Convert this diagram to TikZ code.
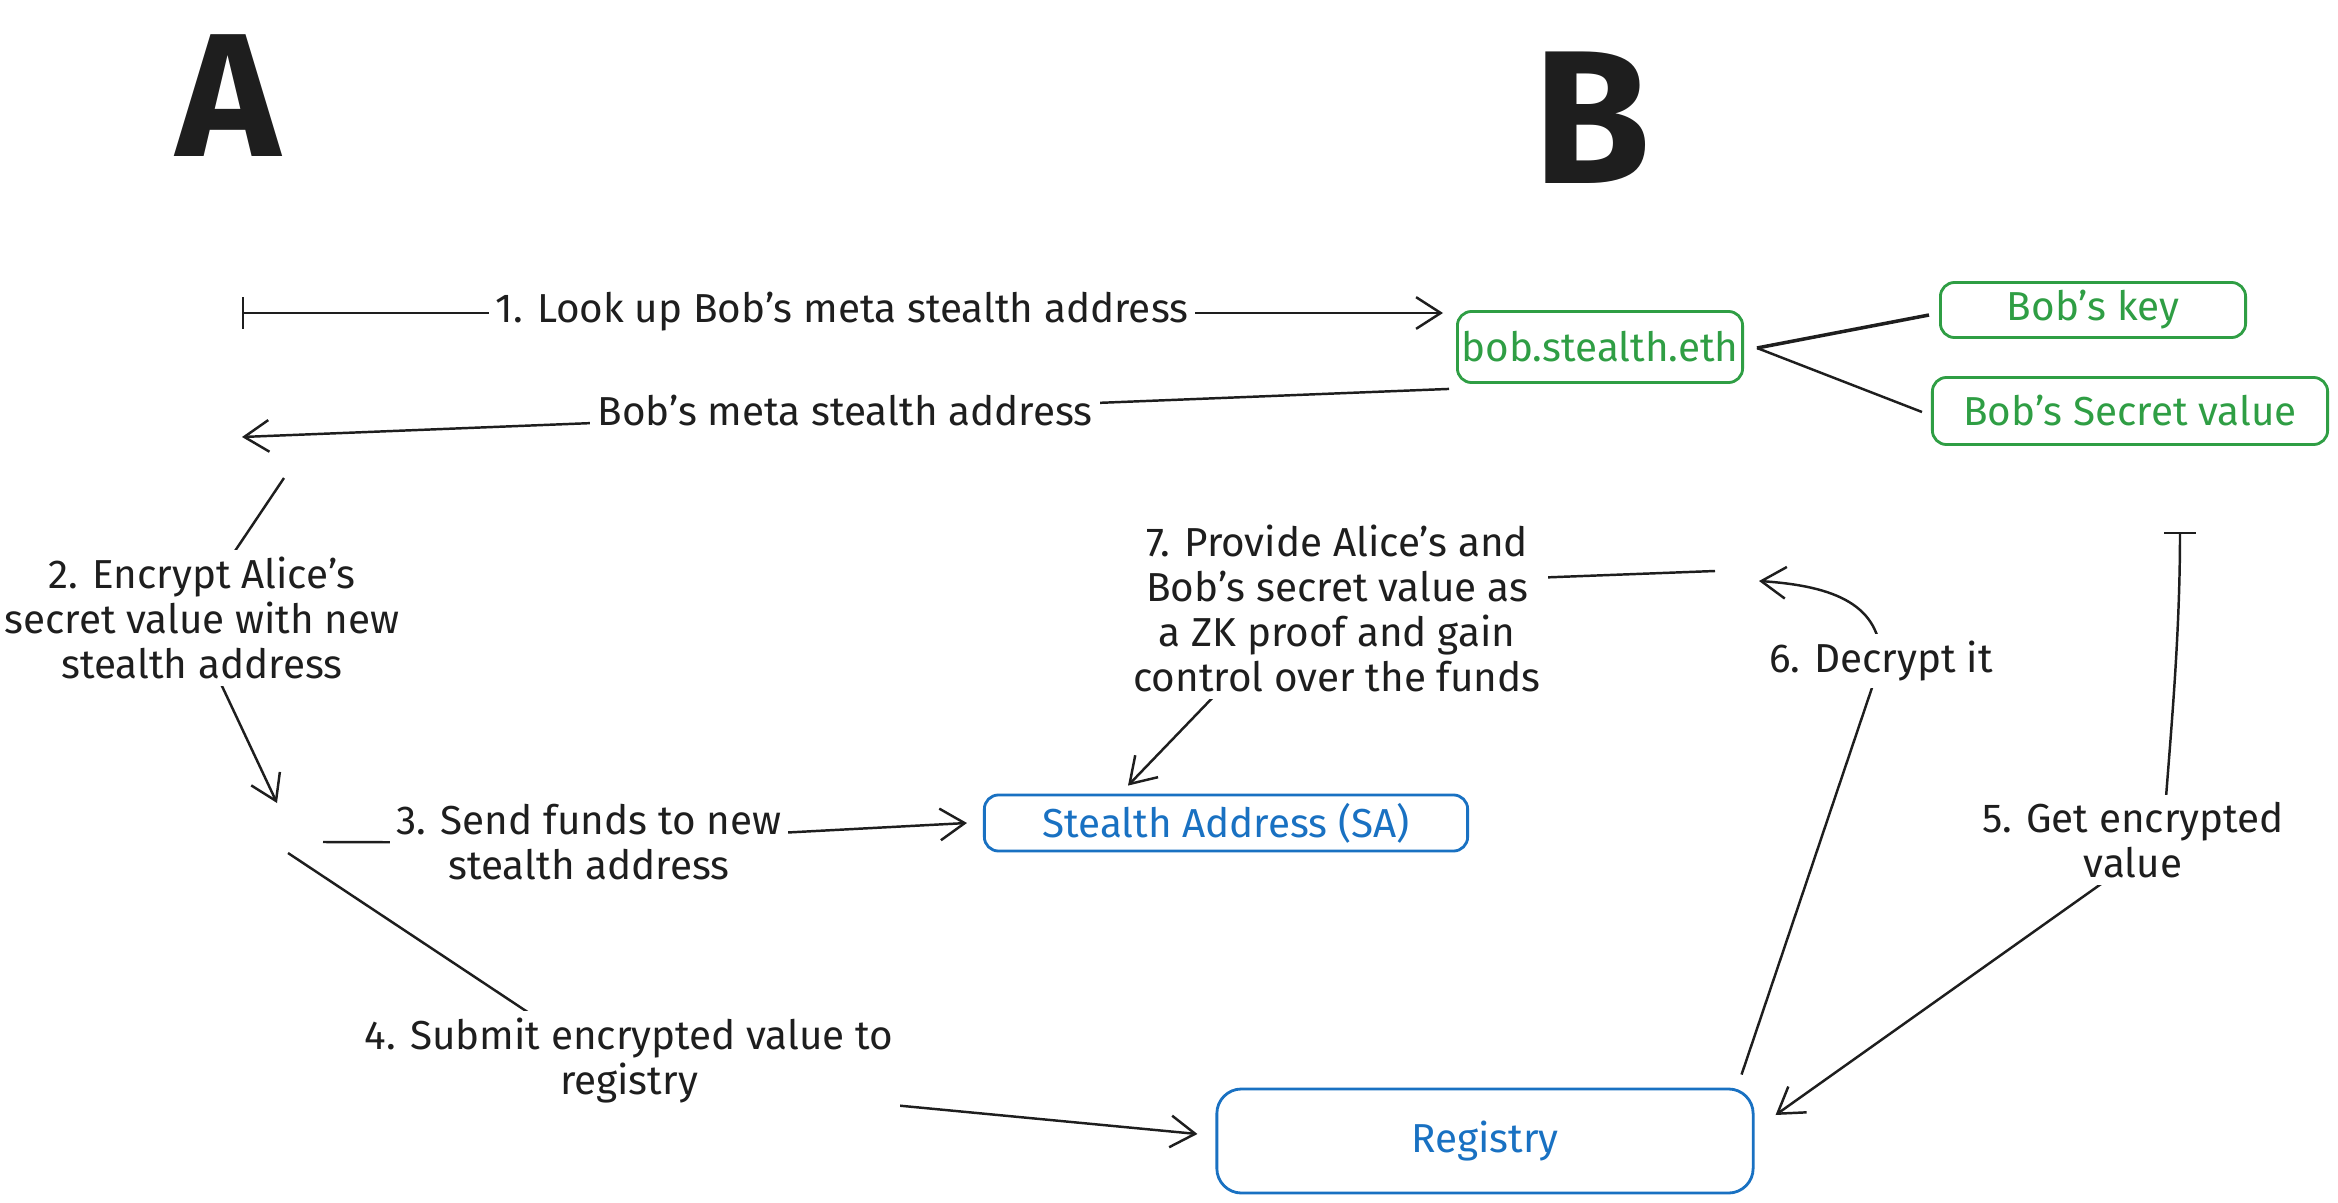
\documentclass[tikz,border=0pt]{standalone}
\usepackage{fontspec}
\setmainfont{Fira Sans}
\usetikzlibrary{arrows.meta}
\pgfdeclarelayer{bg}
\pgfsetlayers{bg,main}
\definecolor{ink}{HTML}{1E1E1E}
\definecolor{grn}{HTML}{2F9E44}
\definecolor{blu}{HTML}{1971C2}
\begin{document}
\begin{tikzpicture}[x=0.01cm,y=-0.01cm,
  txt/.style={font=\fontsize{11.5}{12.8}\selectfont, text=ink, align=center},
  lbl/.style={txt, fill=white, inner sep=2pt},
  gbox/.style={draw=grn, text=grn, font=\fontsize{11.5}{12.8}\selectfont, rounded corners=4pt, line width=0.8pt, inner sep=0pt},
  bbox/.style={draw=blu, text=blu, font=\fontsize{11.5}{12.8}\selectfont, rounded corners=4pt, line width=0.8pt, inner sep=0pt},
  conn/.style={draw=ink, line width=0.7pt},
  tip/.style={-{Straight Barb[length=7pt,width=9pt]}},
  big/.style={text=ink, inner sep=0pt}
]
\useasboundingbox (0,0) rectangle (2338,1203);
\begin{pgfonlayer}{bg}
\fill[white] (0,0) rectangle (2338,1203);
\end{pgfonlayer}

% headings
\node[big, font=\fontsize{50}{60}\selectfont\bfseries] (hA) at (228,96) {A};
\node[big, font=\fontsize{54}{64}\selectfont\bfseries] (hB) at (1592,118) {B};

% boxes
\node[gbox, minimum width=2.85cm, minimum height=0.71cm] (bob) at (1600,347) {bob.stealth.eth};
\node[gbox, minimum width=3.05cm, minimum height=0.55cm] (key) at (2093,310) {Bob's key};
\node[gbox, minimum width=3.95cm, minimum height=0.67cm] (sec) at (2130,411) {Bob's Secret value};
\node[bbox, minimum width=4.83cm, minimum height=0.56cm] (sa) at (1226,823) {Stealth Address (SA)};
\node[bbox, minimum width=5.36cm, minimum height=1.04cm, rounded corners=7pt] (reg) at (1485,1141) {Registry};

% labels
\node[lbl] (l1) at (842,312) {1. Look up Bob's meta stealth address};
\node[lbl] (l1b) at (845,411) {Bob's meta stealth address};
\node[lbl] (l2) at (202,618) {2. Encrypt Alice's\\secret value with new\\stealth address};
\node[lbl] (l3) at (589,842) {3. Send funds to new\\stealth address};
\node[lbl] (l4) at (629,1061) {4. Submit encrypted value to\\registry};
\node[lbl] (l5) at (2133,840) {5. Get encrypted\\value};
\node[lbl] (l6) at (1881,661) {6. Decrypt it};
\node[lbl] (l7) at (1337,608) {7. Provide Alice's and\\Bob's secret value as\\a ZK proof and gain\\control over the funds};

% free ends
\coordinate (c1s) at (242,313);
\coordinate (c1be) at (242,437);
\coordinate (c2s) at (284,478);
\coordinate (c2e) at (277,803);
\coordinate (c3s) at (323,842);
\coordinate (c4s) at (288,853);
\coordinate (c5s) at (2180,532);
\coordinate (c6e) at (1759,581);
\coordinate (c7s) at (1715,571);

\begin{pgfonlayer}{bg}
% 1
\draw[conn, {Bar[width=9pt]}-{Straight Barb[length=7pt,width=9pt]}, shorten >=3.7pt] (c1s) -- (c1s -| bob.north west);
% reply
\draw[conn, tip] ([shift={(-7,5)}]bob.south west) -- (c1be);
% bob links
\draw[conn, line width=1pt] ([shift={(13,1)}]bob.east) -- ([shift={(-10,5)}]key.west);
\draw[conn] ([shift={(13,1)}]bob.east) -- ([shift={(-9,1)}]sec.west);
% 2
\draw[conn, tip] (c2s) -- ([shift={(-12,0)}]l2.center) -- (c2e);
% 3
\draw[conn, tip] (c3s) -- ([shift={(0,1)}]l3.center) -- ([shift={(-16,0)}]sa.west);
% 4
\draw[conn, tip] (c4s) -- ([shift={(1,19)}]l4.center) -- ([shift={(-18,-7)}]reg.west);
% 5
\draw[conn, {Bar[width=9pt]}-{Straight Barb[length=7pt,width=9pt]}] (c5s) .. controls (2180,650) and (2168,760) .. ([shift={(30,0)}]l5.center) -- ([shift={(21,-26)}]reg.east);
% 6
\draw[conn, tip] ([shift={(-13,-13)}]reg.north east) -- (l6.center) .. controls (1881,605) and (1835,586) .. (c6e);
% 7
\draw[conn, tip] (c7s) -- ([shift={(-17,-22)}]l7.center) -- ([shift={(-98,-8)}]sa.north);
\end{pgfonlayer}
\end{tikzpicture}
\end{document}
